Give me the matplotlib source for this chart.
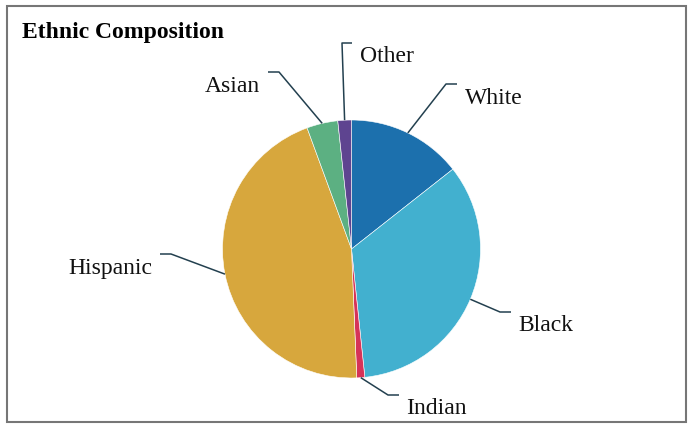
import matplotlib
matplotlib.use("Agg")
import numpy as np
import matplotlib.pyplot as plt
from matplotlib.patches import Rectangle

# Ethnic composition shares (percent), clockwise from 12 o'clock
categories = ["White", "Black", "Indian", "Hispanic", "Asian", "Other"]
shares = [14.4, 34.0, 1.0, 45.1, 3.9, 1.7]
colors = ["#1c70ad", "#42b0cf", "#d63358", "#d7a73d", "#5cb082", "#5e4490"]
title = "Ethnic Composition"

W, H = 690, 424
FONT = "Liberation Serif"
LINE = "#23404f"

fig = plt.figure(figsize=(W / 100, H / 100), dpi=100)
ax = fig.add_axes([0, 0, 1, 1])

# pixel-style coordinates, measured from the top edge
def py(y):
    return H - y

CX, CY, R = 351.5, py(249), 129
wedges, _ = ax.pie(shares, colors=colors, startangle=90, counterclock=False,
                   center=(CX, CY), radius=R,
                   wedgeprops=dict(edgecolor="white", linewidth=0.4))
ax.set_xlim(0, W)
ax.set_ylim(0, H)
ax.set_aspect("equal")
ax.axis("off")

# leader-line elbow, end of the horizontal stub, label origin, alignment
label_layout = {
    "White":    ((446, 84), 457, (465, 104), "left"),
    "Black":    ((500, 312), 511, (518, 331), "left"),
    "Indian":   ((388, 395), 399, (406, 414), "left"),
    "Hispanic": ((171, 254), 160, (152, 274), "right"),
    "Asian":    ((279, 72), 268, (260, 92), "right"),
    "Other":    ((342, 43), 352, (360, 62), "left"),
}

for wedge, name in zip(wedges, categories):
    mid = np.deg2rad((wedge.theta1 + wedge.theta2) / 2)
    ax0, ay0 = CX + R * np.cos(mid), CY + R * np.sin(mid)
    (ex, ey), sx, (tx, ty), ha = label_layout[name]
    ax.plot([ax0, ex, sx], [ay0, py(ey), py(ey)], color=LINE, lw=1.1,
            solid_capstyle="butt", zorder=3)
    ax.text(tx, py(ty), name, ha=ha, va="baseline", fontsize=17,
            family=FONT, color="#111111")

ax.text(22, py(38), title, ha="left", va="baseline", fontsize=17,
        fontweight="bold", family=FONT, color="#000000")

ax.add_patch(Rectangle((7, py(422)), 679, 416, fill=False,
                       edgecolor="#767676", lw=1.5, zorder=5))

fig.savefig("out.png", dpi=100)
